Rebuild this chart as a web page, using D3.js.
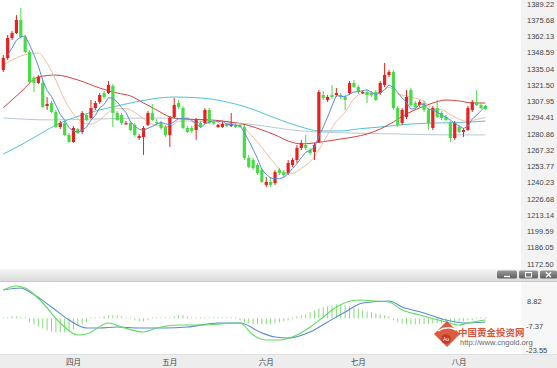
<!DOCTYPE html>
<html><head><meta charset="utf-8">
<script src="https://cdn.jsdelivr.net/npm/d3@7"></script>
<style>html,body{margin:0;padding:0;background:#fff;overflow:hidden}</style>
</head><body>
<svg id="c" width="557" height="368" xmlns="http://www.w3.org/2000/svg"></svg>
<script>
// ---- daily OHLC (gold, USD/oz) ----
const open=[1334.2,1344.2,1360.9,1365.0,1375.9,1361.7,1349.2,1327.5,1323.4,1323.4,
1304.2,1306.7,1299.2,1286.7,1290.0,1280.0,1274.2,1285.0,1282.5,1296.7,
1294.2,1302.5,1307.5,1315.0,1315.0,1320.9,1298.4,1296.7,1289.2,1290.0,
1288.4,1277.5,1278.4,1288.4,1298.4,1290.9,1290.0,1286.7,1280.0,1295.0,
1306.7,1302.5,1285.9,1285.9,1284.2,1290.0,1290.0,1300.9,1290.9,1286.7,
1286.7,1289.2,1287.5,1288.4,1288.4,1286.7,1260.9,1259.2,1255.0,1250.9,
1238.4,1240.9,1240.0,1250.9,1249.2,1248.4,1255.0,1259.2,1269.2,1271.7,
1267.5,1265.9,1274.2,1313.4,1309.2,1313.4,1313.4,1313.4,1311.7,1315.0,
1323.4,1320.0,1315.0,1315.9,1315.0,1315.9,1315.0,1321.7,1330.0,1332.5,
1302.5,1290.0,1295.0,1317.5,1306.7,1305.0,1306.7,1300.9,1285.9,1302.5,
1298.4,1295.0,1290.0,1277.5,1286.7,1282.5,1284.2,1300.9,1307.5,1305.0,
1304.2];
const close=[1344.2,1360.9,1365.0,1375.9,1361.7,1349.2,1324.2,1323.4,1328.4,1303.4,
1305.9,1299.2,1286.7,1290.0,1280.0,1274.2,1285.9,1281.7,1298.4,1292.5,
1302.5,1306.7,1313.4,1311.7,1321.7,1298.4,1292.5,1290.0,1290.0,1284.2,
1280.0,1279.2,1285.9,1298.4,1292.5,1290.0,1285.9,1280.0,1294.2,1305.0,
1303.4,1285.9,1282.5,1283.4,1292.5,1286.7,1300.9,1290.0,1289.6,1288.4,
1289.2,1287.5,1289.2,1286.7,1286.7,1260.9,1253.4,1252.5,1248.4,1240.9,
1240.9,1238.4,1249.2,1248.4,1246.7,1256.7,1259.2,1269.2,1273.4,1269.2,
1265.0,1271.7,1315.9,1310.9,1311.7,1311.7,1315.0,1311.7,1309.2,1323.4,
1320.0,1315.9,1315.9,1313.4,1313.4,1309.2,1323.4,1330.0,1332.5,1302.5,
1288.4,1300.9,1311.7,1305.0,1303.4,1307.5,1300.9,1290.0,1302.5,1295.0,
1294.2,1292.5,1277.5,1290.0,1282.5,1284.2,1302.5,1307.5,1305.0,1302.5,
1301.7];
const high=[1346.7,1363.4,1366.7,1380.0,1385.9,1363.4,1350.9,1329.2,1330.0,1325.9,
1311.7,1308.4,1300.9,1291.7,1291.7,1281.7,1287.5,1285.9,1300.0,1298.4,
1309.2,1308.4,1315.0,1316.7,1325.0,1322.5,1300.0,1298.4,1291.7,1291.7,
1290.0,1280.9,1287.5,1300.0,1305.9,1293.4,1291.7,1288.4,1295.9,1310.9,
1309.2,1304.2,1287.5,1287.5,1294.2,1291.7,1302.5,1302.5,1291.7,1289.2,
1290.9,1290.0,1298.4,1290.0,1289.2,1288.4,1263.4,1260.9,1256.7,1252.5,
1245.0,1245.0,1250.9,1252.5,1250.9,1259.2,1260.9,1271.7,1275.9,1280.0,
1269.2,1273.4,1317.5,1316.7,1313.4,1321.7,1319.2,1315.0,1313.4,1325.0,
1325.9,1321.7,1317.5,1317.5,1316.7,1317.5,1325.0,1340.0,1334.2,1334.2,
1304.2,1302.5,1317.5,1319.2,1308.4,1309.2,1308.4,1302.5,1304.2,1309.2,
1300.0,1296.7,1291.7,1291.7,1288.4,1285.9,1304.2,1309.2,1317.5,1306.7,
1305.0];
const low=[1332.5,1342.5,1359.2,1364.2,1360.9,1348.4,1322.5,1315.9,1322.5,1302.5,
1300.9,1298.4,1285.9,1285.0,1279.2,1273.4,1273.4,1280.9,1280.9,1291.7,
1293.4,1300.9,1305.9,1310.0,1314.2,1286.7,1291.7,1288.4,1288.4,1283.4,
1278.4,1275.9,1263.4,1287.5,1291.7,1288.4,1284.2,1278.4,1270.0,1294.2,
1301.7,1285.0,1281.7,1281.7,1275.9,1285.9,1289.2,1289.2,1288.4,1285.9,
1285.9,1286.7,1286.7,1285.9,1285.9,1259.2,1252.5,1250.9,1246.7,1240.0,
1236.7,1236.7,1238.4,1246.7,1245.0,1246.7,1253.4,1256.7,1267.5,1267.5,
1263.4,1259.2,1273.4,1309.2,1307.5,1310.0,1311.7,1310.0,1300.9,1313.4,
1319.2,1314.2,1314.2,1306.7,1311.7,1308.4,1313.4,1320.0,1328.4,1300.9,
1286.7,1288.4,1293.4,1304.2,1301.7,1303.4,1299.2,1284.2,1284.2,1294.2,
1292.5,1291.7,1274.2,1275.9,1281.7,1278.4,1283.4,1299.2,1304.2,1301.7,
1300.9];

// ---- moving averages ----
const ma5Start=1;
const ma5=[1346.7,1352.5,1359.2,1361.6,1362.6,1355.2,1346.9,1337.4,1325.7,1317.1,
1312.1,1304.7,1297.1,1292.4,1286.1,1283.4,1282.4,1284.1,1286.6,1292.2,
1296.4,1302.7,1305.4,1311.2,1310.4,1307.6,1302.9,1298.6,1291.1,1287.4,
1284.7,1283.9,1285.6,1287.2,1289.2,1290.6,1289.4,1288.6,1291.1,1293.7,
1293.7,1294.2,1292.1,1289.6,1286.2,1289.2,1290.7,1292.0,1291.1,1291.6,
1289.0,1288.8,1288.2,1287.9,1282.2,1275.4,1268.1,1260.4,1251.2,1247.2,
1244.2,1243.6,1243.6,1244.7,1247.9,1252.1,1256.1,1261.1,1265.6,1267.2,
1269.7,1279.1,1286.6,1295.1,1304.4,1313.1,1312.2,1311.9,1314.2,1315.9,
1316.1,1316.9,1317.7,1315.7,1313.6,1315.1,1317.9,1321.7,1319.6,1315.4,
1310.9,1307.2,1301.7,1301.9,1305.7,1305.7,1301.4,1300.9,1299.2,1296.6,
1294.9,1292.4,1289.9,1287.4,1285.4,1287.4,1293.4,1296.4,1300.4,1303.9];
const ma10Idx=[0,2,4,6,8,10,12,14,16,18,20,22,24,26,28,30,32,34,36,38,40,42,44,46,48,50,52,54,56,58,60,62,64,66,68,70,72,74,76,78,80,82,84,86,88,90,92,94,96,98,100,102,104,106,108,110];
const ma10=[1338.4,1342.6,1345.9,1347.6,1348.4,1339.8,1325.8,1309.1,1297.7,1290.6,
1289.1,1292.6,1298.9,1302.0,1302.0,1298.9,1293.4,1289.1,1287.6,1287.1,
1291.5,1291.8,1290.3,1291.5,1292.0,1288.9,1289.7,1289.5,1282.1,1274.3,
1264.7,1255.8,1248.0,1248.1,1252.3,1257.6,1267.6,1280.3,1291.4,1299.2,
1310.1,1314.6,1315.0,1315.6,1319.7,1314.5,1312.6,1310.7,1308.3,1301.3,
1301.1,1296.9,1293.3,1291.1,1293.1,1294.6];
const ma30Idx=[0,4,8,12,17,22,26,29,32,35,38,41,44,47,50,53,56,59,62,65,68,71,74,77,80,83,86,89,92,95,98,101,104,107,110];
const ma30=[1302.6,1315.9,1328.4,1330.0,1325.9,1319.2,1315.0,1312.6,1306.7,1300.9,1295.1,1293.4,1293.0,1292.6,1291.7,1290.1,1288.0,1284.2,1280.1,1275.0,1272.6,1273.4,1275.0,1276.7,1278.4,1280.9,1285.0,1290.9,1297.6,1302.6,1306.7,1309.2,1308.4,1306.7,1306.7];
const ma60Idx=[0,4,8,13,18,22,28,34,39,45,51,56,62,68,72,77,81,86,93,100,107,110];
const ma60=[1264.2,1271.7,1280.1,1290.1,1296.7,1300.9,1305.9,1310.1,1311.7,1310.9,1307.6,1302.6,1294.2,1286.7,1283.4,1283.4,1285.1,1286.7,1289.2,1290.1,1290.9,1291.7];
const ma120Idx=[0,11,22,34,45,56,68,79,90,101,110];
const ma120=[1294.2,1292.6,1293.4,1294.2,1292.6,1289.2,1283.4,1281.7,1280.9,1280.1,1280.1];

// ---- MACD ----
const difIdx=[0,3,5,9,13,17,19,24,27,32,35,40,45,54,57,60,63,67,70,73,76,81,85,88,91,95,101,104,106,110];
const dif=[18.73,21.37,20.05,10.14,-3.07,-11.0,-10.34,-3.07,-5.71,-9.02,-6.37,-4.39,-4.39,-3.07,-11.0,-14.3,-14.3,-11.0,-5.71,0.89,7.5,12.12,11.46,10.8,5.52,2.21,-2.41,-4.39,-3.07,-1.09];
const deaIdx=[0,4,6,11,15,19,22,26,31,37,42,49,54,59,62,65,70,74,78,82,88,91,96,101,105,110];
const dea=[18.73,20.05,17.41,7.5,-1.09,-6.37,-6.37,-5.71,-6.37,-6.37,-5.71,-3.07,-3.07,-9.68,-12.32,-12.98,-9.02,-2.41,4.2,10.14,11.46,7.5,3.53,-1.09,-3.07,-2.41];
const hist=[0.66,0.66,1.32,1.32,0.66,0,
-2.64,-3.96,-5.28,-6.61,-7.93,-8.59,-9.25,-9.25,-9.25,-8.59,-7.27,-5.28,-3.96,-2.64,
-0.66,-0.3,0.3,
1.32,1.98,1.98,1.98,1.32,
0.33,-0.33,
-1.32,-1.98,-1.98,-1.32,
0.66,0.66,-0.66,-0.66,0.66,
1.32,1.98,1.98,1.32,
0.66,0.33,-0.33,0.33,0.66,0.33,0.33,-0.33,0.33,0.33,-0.33,
-1.32,-2.64,-3.3,-3.96,-3.96,-3.96,-3.96,-3.96,-3.3,-2.64,-1.98,-1.32,-0.66,
1.32,1.98,2.64,3.96,5.28,6.61,7.27,7.93,8.59,9.25,9.25,8.59,7.93,7.27,6.61,5.28,4.62,3.96,3.3,2.64,1.98,1.32,
-1.32,-2.64,-3.3,-3.96,-3.96,-3.96,-3.96,-3.96,-3.96,-3.3,-3.3,-3.3,-2.64,-2.64,-2.64,-1.98,-1.98,-1.32,-1.32,-0.66,-0.66,0];

// ---- tick labels ----
const priceTicks=["1389.22","1375.68","1362.13","1348.59","1335.04","1321.50","1307.95","1294.41","1280.86","1267.32","1253.77","1240.23","1226.68","1213.14","1199.59","1186.05","1172.50"];
const macdTicks=["8.82","-7.37","-23.55"];
const months=["四月","五月","六月","七月","八月"];
const monthIdx=[16,38,60,81,104];

// ---- drawing ----
const W=557,H=368;
const svg=d3.select("#c");
const n=open.length;
const x=d3.scaleBand().domain(d3.range(n)).range([1.1,487.6]);
const cx=i=>x(i)+x.bandwidth()/2;
const y=d3.scaleLinear().domain([1172.50,1389.22]).range([264,4]);
const my=d3.scaleLinear().domain([-23.55,8.82]).range([354,305]);
const FONT='"Liberation Sans", Arial, sans-serif';

const defs=svg.append("defs");
const g1=defs.append("linearGradient").attr("id","bar").attr("x1",0).attr("y1",0).attr("x2",0).attr("y2",1);
g1.append("stop").attr("offset","0").attr("stop-color","#f6f6f6");
g1.append("stop").attr("offset","1").attr("stop-color","#dcdcdc");
const g2=defs.append("linearGradient").attr("id","btn").attr("x1",0).attr("y1",0).attr("x2",0).attr("y2",1);
g2.append("stop").attr("offset","0").attr("stop-color","#9a9a9a");
g2.append("stop").attr("offset","1").attr("stop-color","#5e5e5e");

svg.append("rect").attr("width",W).attr("height",H).attr("fill","#fff");
// right axis column
svg.append("rect").attr("x",521).attr("y",0).attr("width",36).attr("height",269).attr("fill","#f3f3f3");
svg.append("rect").attr("x",521).attr("y",282).attr("width",36).attr("height",72).attr("fill","#f7f7f7");

// MA lines
function maLine(idx,vals,color,curve){
  const pts=vals.map((v,k)=>[idx[k],v]);
  svg.append("path").datum(pts)
    .attr("fill","none").attr("stroke",color).attr("stroke-width",1)
    .attr("d",d3.line().x(d=>cx(d[0])).y(d=>y(d[1])).curve(curve));
}
maLine(ma120Idx,ma120,"#b8c9d8",d3.curveMonotoneX);
maLine(ma60Idx,ma60,"#4fc4da",d3.curveMonotoneX);
maLine(ma30Idx,ma30,"#d6403e",d3.curveMonotoneX);
maLine(ma10Idx,ma10,"#f2bca2",d3.curveMonotoneX);

// candles
const cg=svg.append("g");
d3.range(n).forEach(i=>{
  const up=close[i]>=open[i];
  const col=up?"#e8201e":"#46dc46";
  cg.append("line").attr("x1",cx(i)).attr("x2",cx(i))
    .attr("y1",y(high[i])).attr("y2",y(low[i]))
    .attr("stroke",col).attr("stroke-width",1);
  const t=Math.min(y(open[i]),y(close[i]));
  const h=Math.max(1.2,Math.abs(y(open[i])-y(close[i])));
  cg.append("rect").attr("x",cx(i)-1.6).attr("y",t).attr("width",3.2).attr("height",h).attr("fill",col);
});
maLine(ma5.map((v,k)=>k+ma5Start),ma5,"#5b8ed6",d3.curveLinear);

// price axis labels
svg.append("g").selectAll("text").data(priceTicks).join("text")
  .attr("x",527).attr("y",d=>y(+d)).attr("dy","0.35em")
  .attr("font-family",FONT).attr("font-size",7.5).attr("fill","#444")
  .text(d=>d);

// divider bar with buttons
svg.append("rect").attr("x",0).attr("y",269).attr("width",W).attr("height",12).attr("fill","url(#bar)");
svg.append("line").attr("x1",0).attr("x2",W).attr("y1",281.5).attr("y2",281.5).attr("stroke","#c9c9c9");
const btns=[[497,20],[519,19],[540,17]];
btns.forEach(([bx,bw],k)=>{
  svg.append("rect").attr("x",bx).attr("y",270.5).attr("width",bw).attr("height",8).attr("rx",1.5).attr("fill","url(#btn)");
  const mx=bx+bw/2;
  if(k===0) svg.append("line").attr("x1",mx-3).attr("x2",mx+3).attr("y1",276.5).attr("y2",276.5).attr("stroke","#fff").attr("stroke-width",1.4);
  if(k===1) svg.append("rect").attr("x",mx-3).attr("y",272.5).attr("width",6).attr("height",4.5).attr("fill","none").attr("stroke","#fff").attr("stroke-width",1);
  if(k===2) svg.append("path").attr("d",`M${mx-2.5},272.2L${mx+2.5},277.2M${mx+2.5},272.2L${mx-2.5},277.2`).attr("stroke","#fff").attr("stroke-width",1.4);
});

// MACD histogram
const hg=svg.append("g");
hist.forEach((h,i)=>{
  const y0=my(0), y1=my(h);
  hg.append("line").attr("x1",cx(i)).attr("x2",cx(i))
    .attr("y1",y0).attr("y2",Math.abs(y1-y0)<1?y0-1:y1)
    .attr("stroke","#84dc7c").attr("stroke-width",1);
});
function macdLine(idx,vals,color){
  const pts=vals.map((v,k)=>[idx[k],v]);
  svg.append("path").datum(pts).attr("fill","none").attr("stroke",color).attr("stroke-width",1.1)
    .attr("d",d3.line().x(d=>cx(d[0])).y(d=>my(d[1])).curve(d3.curveMonotoneX));
}
macdLine(deaIdx,dea,"#5b8bd2");
macdLine(difIdx,dif,"#5edc5e");

// MACD labels
svg.append("g").selectAll("text").data(macdTicks).join("text")
  .attr("x",d=>d[0]==="-"?526:527).attr("y",d=>my(+d)-3.5).attr("dy","0.35em")
  .attr("font-family",FONT).attr("font-size",7.5).attr("fill","#444")
  .text(d=>d);

// bottom time strip
svg.append("rect").attr("x",0).attr("y",354).attr("width",W).attr("height",14).attr("fill","#ededed");
svg.append("line").attr("x1",0).attr("x2",W).attr("y1",354.5).attr("y2",354.5).attr("stroke","#e0e0e0");
svg.append("g").selectAll("text").data(months).join("text")
  .attr("x",(d,k)=>cx(monthIdx[k])).attr("y",365).attr("text-anchor","middle")
  .attr("font-family",'"Noto Sans CJK SC", sans-serif').attr("font-size",7.5).attr("fill","#444")
  .text(d=>d);

// watermark
const wm=svg.append("g");
wm.append("path").attr("d","M447,321L460,334L447,347L434,334Z").attr("fill","#d9482c").attr("opacity",0.9);
wm.append("path").attr("d","M438,331Q447,325 456,330").attr("fill","none").attr("stroke","#fff").attr("stroke-width",1.5);
wm.append("circle").attr("cx",446).attr("cy",339).attr("r",4.8).attr("fill","#c73a22");
wm.append("text").attr("x",446).attr("y",341).attr("text-anchor","middle").attr("font-family",FONT)
  .attr("font-size",5).attr("fill","#fff").text("Au");
wm.append("text").attr("x",458).attr("y",336).attr("font-family",'"Noto Sans CJK SC", sans-serif')
  .attr("font-size",9.5).attr("font-weight","bold").attr("fill","#d9482c").attr("opacity",0.92).text("中国黄金投资网");
wm.append("text").attr("x",460).attr("y",344.5).attr("font-family",FONT)
  .attr("font-size",7.6).attr("fill","#666").text("http://www.cngold.org");
</script>
</body></html>
